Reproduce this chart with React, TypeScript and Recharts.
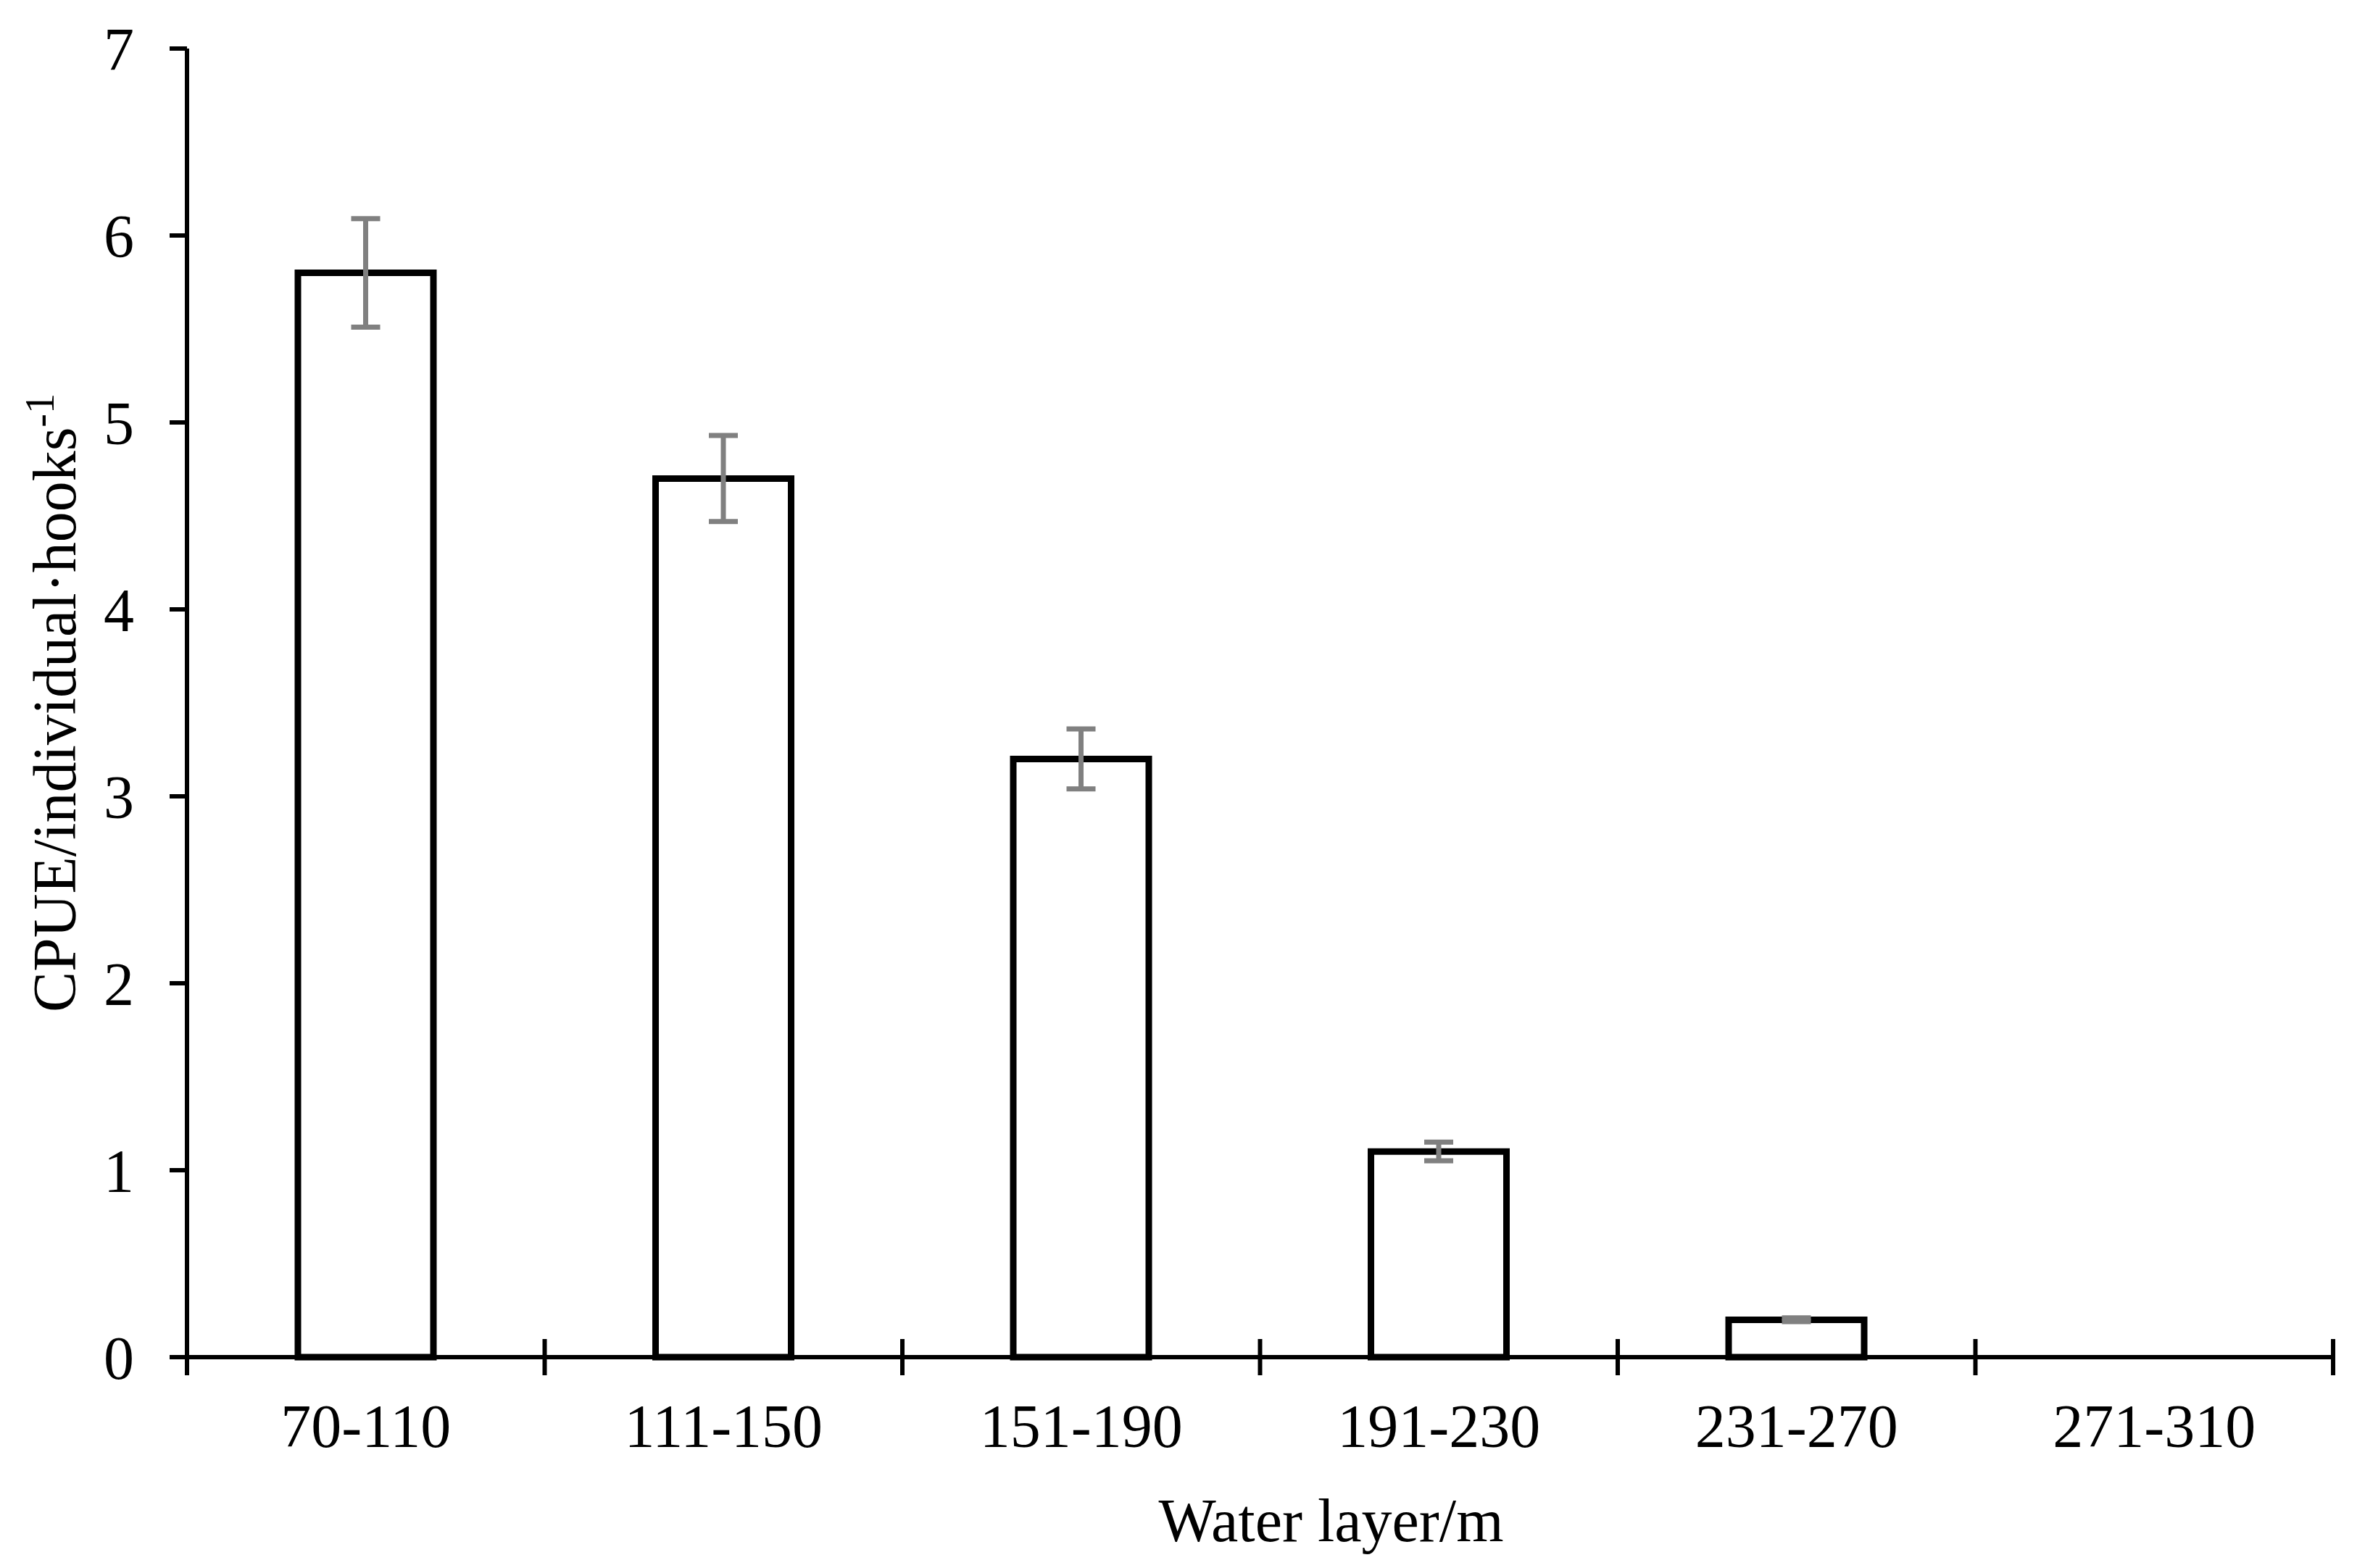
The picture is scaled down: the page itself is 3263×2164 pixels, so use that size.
import React from 'react';
import { BarChart, Bar, XAxis, YAxis, ErrorBar } from 'recharts';

const categories = ['70-110', '111-150', '151-190', '191-230', '231-270', '271-310'];
const cpue = [5.8, 4.7, 3.2, 1.1, 0.2, 0];
const sem = [0.29, 0.23, 0.16, 0.05, 0.01, null];
const yTicks = [0, 1, 2, 3, 4, 5, 6, 7];

const data = categories.map((c, i) => ({ layer: c, cpue: cpue[i], err: sem[i] }));

const FONT = '"Liberation Serif", "Times New Roman", serif';
const FS = 84;

const XTick = (props: any) => {
  const { x, y, payload } = props;
  const half = typeof payload.offset === 'number' && payload.offset > 0 ? payload.offset : (3219 - 258) / categories.length / 2;
  const isLast = payload.value === categories[categories.length - 1];
  return (
    <g>
      <line x1={x - half} x2={x - half} y1={y - 25} y2={y + 25} stroke="#000" strokeWidth={6} />
      {isLast && <line x1={x + half} x2={x + half} y1={y - 25} y2={y + 25} stroke="#000" strokeWidth={6} />}
      <text x={x} y={y + 124} textAnchor="middle" fontFamily={FONT} fontSize={FS} fill="#000">
        {payload.value}
      </text>
    </g>
  );
};

const YLabel = (props: any) => {
  const vb = props.viewBox || {};
  const cx = 104;
  const cy = (vb.y ?? 67) + (vb.height ?? 1806) / 2;
  return (
    <text x={cx} y={cy} transform={`rotate(-90, ${cx}, ${cy})`} textAnchor="middle" fontFamily={FONT} fontSize={FS} fill="#000">
      <tspan>CPUE/individual·hooks</tspan>
      <tspan fontSize={56} dy={-30}>-1</tspan>
    </text>
  );
};

const XLabel = (props: any) => {
  const vb = props.viewBox || {};
  const cx = (vb.x ?? 258) + (vb.width ?? 2961) / 2 + 98;
  const cy = (vb.y ?? 1873) + 254;
  return (
    <text x={cx} y={cy} textAnchor="middle" fontFamily={FONT} fontSize={FS} fill="#000">
      Water layer/m
    </text>
  );
};

export default function App() {
  return (
    <div style={{ position: 'absolute', left: 0, top: 0, width: 3263, height: 2164, background: '#fff' }}>
      <BarChart
        width={3263}
        height={2164}
        data={data}
        margin={{ top: 67, right: 44, bottom: 91, left: 0 }}
      >
        <XAxis
          dataKey="layer"
          height={200}
          interval={0}
          tickSize={0}
          tickMargin={0}
          tickLine={false}
          axisLine={{ stroke: '#000', strokeWidth: 6 }}
          tick={<XTick />}
          label={{ content: XLabel }}
        />
        <YAxis
          width={258}
          domain={[0, 7]}
          ticks={yTicks}
          interval={0}
          tickSize={24}
          tickMargin={49}
          tickLine={{ stroke: '#000', strokeWidth: 6 }}
          axisLine={{ stroke: '#000', strokeWidth: 6 }}
          tick={{ fill: '#000', fontSize: FS, fontFamily: FONT }}
          label={{ content: YLabel }}
        />
        <Bar dataKey="cpue" fill="#fff" stroke="#000" strokeWidth={9} barSize={187} isAnimationActive={false}>
          <ErrorBar dataKey="err" width={20} stroke="#808080" strokeWidth={7} isAnimationActive={false} />
        </Bar>
      </BarChart>
    </div>
  );
}
